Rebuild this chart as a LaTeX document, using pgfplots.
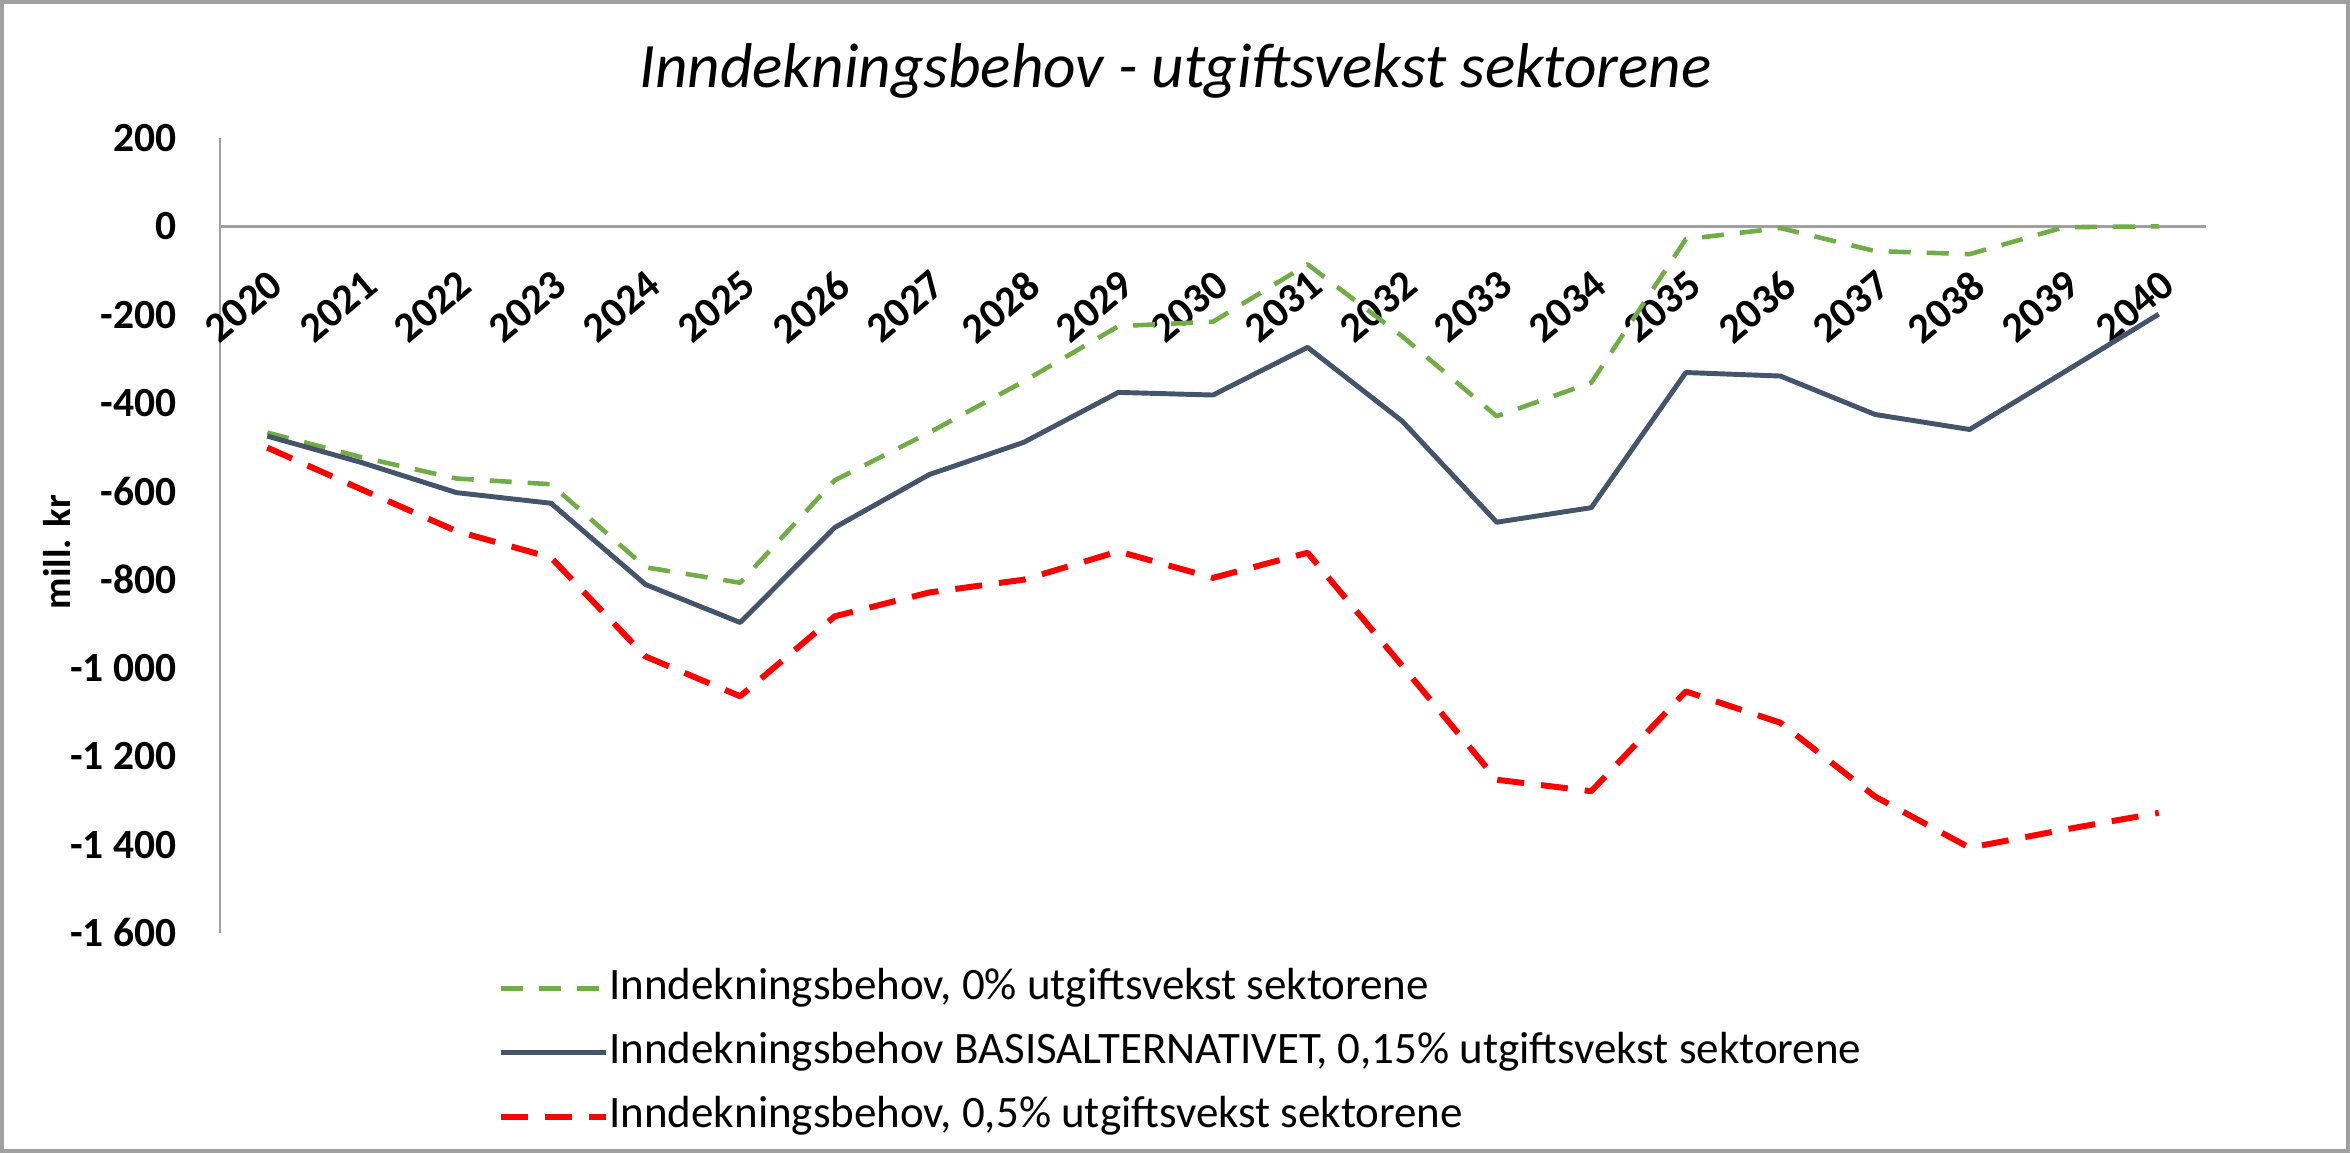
\documentclass[border=0pt]{standalone}
\usepackage{fontspec}
\setmainfont{Carlito}
\usepackage{pgfplots}
\pgfplotsset{compat=1.18}

\definecolor{grn}{HTML}{70AD47}
\definecolor{navy}{HTML}{44546A}
\definecolor{rd}{HTML}{FF0000}
\definecolor{axgray}{HTML}{A0A0A0}

\begin{document}
\begin{tikzpicture}
\path[use as bounding box] (0,0) rectangle (23.5,11.53);
\draw[axgray, line width=0.035cm] (0.02,0.02) rectangle (23.48,11.51);

\begin{axis}[
    scale only axis,
    at={(2.20cm,2.20cm)}, anchor=south west,
    width=19.86cm, height=7.95cm,
    xmin=-0.5, xmax=20.5,
    ymin=-1600, ymax=200,
    axis x line=middle, axis y line=left,
    every inner x axis line/.append style={-},
    every outer x axis line/.append style={-},
    every inner y axis line/.append style={-},
    every outer y axis line/.append style={-},
    axis line style={axgray, line width=0.8pt},
    hide obscured x ticks=false, hide obscured y ticks=false,
    major tick length=0pt,
    xtick={0,...,20},
    xticklabels={2020,2021,2022,2023,2024,2025,2026,2027,2028,2029,2030,2031,2032,2033,2034,2035,2036,2037,2038,2039,2040},
    xticklabel style={font=\bfseries\fontsize{12}{14}\selectfont, inner sep=0pt, rotate=40, anchor=north east},
    xticklabel shift=0.41cm,
    ytick={-1600,-1400,...,200},
    yticklabels={-1 600,-1 400,-1 200,-1 000,-800,-600,-400,-200,0,200},
    yticklabel style={font=\bfseries\fontsize{11.8}{14}\selectfont, inner sep=0pt, anchor=east, xshift=-0.43cm},
    ylabel={mill. kr},
    ylabel style={font=\bfseries\fontsize{11}{13}\selectfont, at={(axis description cs:-0.082,0.479)}, anchor=center},
    title={Inndekningsbehov - utgiftsvekst sektorene},
    title style={font=\itshape\fontsize{18}{20}\selectfont, at={(axis description cs:0.481,1.037)}, anchor=base, yshift=0pt},
    legend style={at={(axis description cs:0.1345,-0.0365)}, anchor=north west, draw=none, fill=none,
        font=\fontsize{12.8}{14}\selectfont,
        nodes={inner sep=0pt, text height=0.30cm, text depth=0.08cm},
        row sep=0.26cm,
        /tikz/every even column/.append style={column sep=0.1cm}},
    legend cell align=left,
    legend image code/.code={\draw[#1] (0cm,0cm) -- (1.05cm,0cm);},
    clip=false,
]
\addplot[grn, line width=1.3pt, line join=round, dash pattern=on 0.22cm off 0.16cm] coordinates {
    (0,-467) (1,-523) (2,-571) (3,-584) (4,-772) (5,-807) (6,-575) (7,-467) (8,-351) (9,-226)
    (10,-216) (11,-86) (12,-249) (13,-430) (14,-354) (15,-29) (16,-4) (17,-56) (18,-63) (19,-2) (20,0)
};
\addlegendentry{Inndekningsbehov, 0\% utgiftsvekst sektorene}
\addplot[navy, line width=1.4pt, line join=round] coordinates {
    (0,-475) (1,-535) (2,-603) (3,-627) (4,-811) (5,-897) (6,-682) (7,-562) (8,-489) (9,-376)
    (10,-382) (11,-274) (12,-441) (13,-670) (14,-637) (15,-331) (16,-339) (17,-426) (18,-460) (19,-330) (20,-199)
};
\addlegendentry{Inndekningsbehov BASISALTERNATIVET, 0,15\% utgiftsvekst sektorene}
\addplot[rd, line width=1.7pt, line join=round, dash pattern=on 0.27cm off 0.17cm] coordinates {
    (0,-501) (1,-596) (2,-690) (3,-750) (4,-974) (5,-1064) (6,-883) (7,-829) (8,-800) (9,-736)
    (10,-796) (11,-739) (12,-995) (13,-1253) (14,-1279) (15,-1053) (16,-1124) (17,-1291) (18,-1407) (19,-1366) (20,-1328)
};
\addlegendentry{Inndekningsbehov, 0,5\% utgiftsvekst sektorene}
\end{axis}
\end{tikzpicture}
\end{document}
